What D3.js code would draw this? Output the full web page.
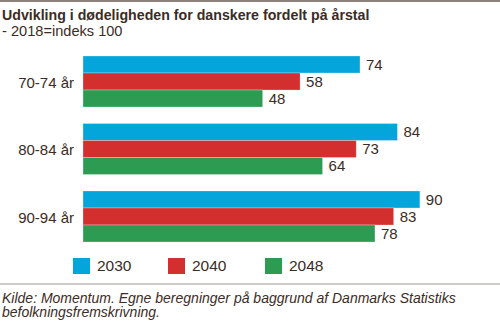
<!DOCTYPE html>
<html lang="da">
<head>
<meta charset="utf-8">
<title>Udvikling i dødeligheden</title>
<script src="https://d3js.org/d3.v7.min.js"></script>
<style>
  body { margin: 0; background: #fff; }
  svg { display: block; font-family: "Liberation Sans", Arial, sans-serif; }
  text { fill: #3b2c25; }
</style>
</head>
<body>
<script>
// age groups and projection years
const groups = ["70-74 år", "80-84 år", "90-94 år"];
const years = ["2030", "2040", "2048"];
const colors = ["#04a5db", "#d32f2f", "#2e9b53"];

// mortality index (2018 = 100), one array per year
const v2030 = [74, 84, 90];
const v2040 = [58, 73, 83];
const v2048 = [48, 64, 78];
const series = [v2030, v2040, v2048];

const W = 500, H = 324;
const svg = d3.select("body").append("svg")
  .attr("width", W)
  .attr("height", H);

// frame lines
svg.append("rect").attr("x", 0).attr("y", 0).attr("width", W).attr("height", 2)
  .attr("fill", "#8c817b");
svg.append("rect").attr("x", 0).attr("y", 283.5).attr("width", W).attr("height", 1)
  .attr("fill", "#9a9390");

// title
svg.append("text")
  .attr("x", 2).attr("y", 19.5)
  .style("font-size", "14.2px").style("font-weight", "bold")
  .text("Udvikling i dødeligheden for danskere fordelt på årstal");
svg.append("text")
  .attr("x", 2).attr("y", 36)
  .style("font-size", "14.6px")
  .text("- 2018=indeks 100");

const x = d3.scaleLinear().domain([0, 100]).range([83, 457.3]);
const y0 = d3.scaleBand().domain(groups).range([56, 242]).paddingInner(0.244);
const y1 = d3.scaleBand().domain(years).range([0, y0.bandwidth()]);

const rows = groups.map((g, i) => ({
  group: g,
  vals: years.map((yr, j) => ({ year: yr, value: series[j][i], color: colors[j] }))
}));

const g = svg.selectAll("g.grp").data(rows).join("g")
  .attr("class", "grp")
  .attr("transform", d => `translate(0,${y0(d.group)})`);

g.append("text")
  .attr("x", 74)
  .attr("y", y0.bandwidth() / 2 + 1)
  .attr("dy", "0.35em")
  .attr("text-anchor", "end")
  .style("font-size", "15px")
  .text(d => d.group);

g.selectAll("rect").data(d => d.vals).join("rect")
  .attr("x", x(0))
  .attr("y", d => y1(d.year))
  .attr("width", d => x(d.value) - x(0))
  .attr("height", y1.bandwidth())
  .attr("fill", d => d.color)
  .attr("stroke", "#ffffff")
  .attr("stroke-opacity", 0.35)
  .attr("stroke-width", 0.8);

g.selectAll("text.val").data(d => d.vals).join("text")
  .attr("class", "val")
  .attr("x", d => x(d.value) + 6)
  .attr("y", d => y1(d.year) + y1.bandwidth() / 2)
  .attr("dy", "0.35em")
  .style("font-size", "15px")
  .text(d => d.value);

// legend
const legX = [73, 168, 265];
const leg = svg.selectAll("g.leg").data(years).join("g")
  .attr("class", "leg")
  .attr("transform", (d, i) => `translate(${legX[i]},258)`);
leg.append("rect")
  .attr("width", 17).attr("height", 16)
  .attr("fill", (d, i) => colors[i]);
leg.append("text")
  .attr("x", 24).attr("y", 8)
  .attr("dy", "0.35em")
  .style("font-size", "15.5px")
  .text(d => d);

// source
svg.append("text")
  .attr("x", 2).attr("y", 302.5)
  .style("font-size", "14px").style("font-style", "italic")
  .text("Kilde: Momentum. Egne beregninger på baggrund af Danmarks Statistiks");
svg.append("text")
  .attr("x", 2).attr("y", 317)
  .style("font-size", "14px").style("font-style", "italic")
  .text("befolkningsfremskrivning.");
</script>
</body>
</html>
